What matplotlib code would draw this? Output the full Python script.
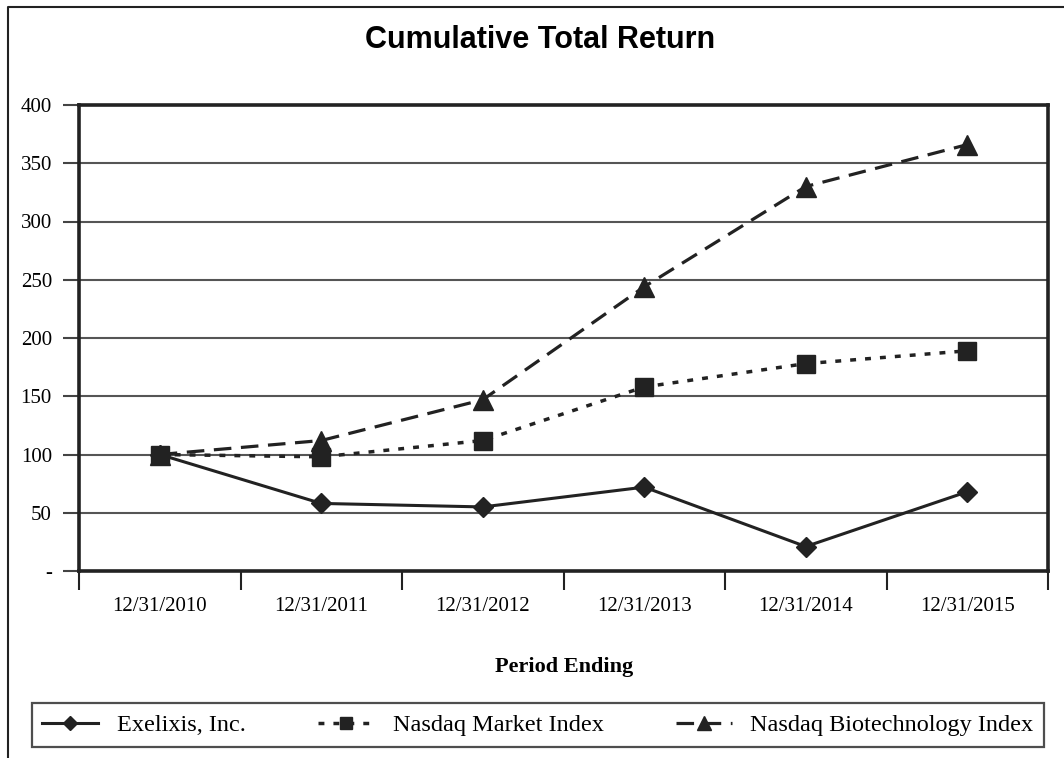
import matplotlib
matplotlib.use('Agg')
from matplotlib import pyplot as plt
from matplotlib.lines import Line2D
from matplotlib.ticker import FixedLocator, NullFormatter

periods = ['12/31/2010', '12/31/2011', '12/31/2012', '12/31/2013', '12/31/2014', '12/31/2015']
exelixis = [100, 58, 55, 72, 21, 68]
nasdaq_market = [100, 98, 112, 158, 178, 189]
nasdaq_biotech = [100, 112, 147, 244, 330, 366]
y_ticks = [0, 50, 100, 150, 200, 250, 300, 350, 400]
y_labels = ['-', '50', '100', '150', '200', '250', '300', '350', '400']

W, H = 1064, 758
fig = plt.figure(figsize=(W / 100, H / 100), dpi=100)

# outer frame (top and left edges only visible)
fig.lines.append(Line2D([8 / W, 8 / W, 1.0], [0.0, 1 - 7 / H, 1 - 7 / H],
                        transform=fig.transFigure, color='#222222', linewidth=1.5))

ax = fig.add_axes([79 / W, 1 - 571 / H, (1048 - 79) / W, (571 - 105) / H])
x = list(range(len(periods)))

ax.plot(x, exelixis, color='#222222', linestyle='-', linewidth=2.2,
        marker='D', markersize=10, label='Exelixis, Inc.')
ax.plot(x, nasdaq_market, color='#222222', linestyle=(0, (1.7, 2.6)), linewidth=2.5,
        marker='s', markersize=13, label='Nasdaq Market Index')
ax.plot(x, nasdaq_biotech, color='#222222', linestyle=(0, (5.5, 3)), linewidth=2.3,
        marker='^', markersize=15, label='Nasdaq Biotechnology Index')

ax.set_xlim(-0.5, len(periods) - 0.5)
ax.set_ylim(0, 400)
ax.set_yticks(y_ticks)
ax.set_yticklabels(y_labels, family='Liberation Serif', fontsize=15)
ax.yaxis.grid(True, color='#555555', linewidth=1.5)
ax.set_axisbelow(True)
ax.tick_params(axis='y', length=11.5, width=1.5, color='#444444', pad=8)

ax.set_xticks(x)
ax.set_xticklabels(periods, family='Liberation Serif', fontsize=15)
ax.tick_params(axis='x', which='major', length=0, pad=19)
ax.xaxis.set_minor_locator(FixedLocator([i - 0.5 for i in range(len(periods) + 1)]))
ax.xaxis.set_minor_formatter(NullFormatter())
ax.tick_params(axis='x', which='minor', length=14, width=1.5, color='#222222')

for s in ax.spines.values():
    s.set_linewidth(2.6)
    s.set_color('#222222')

fig.text(540 / W, 1 - 40 / H, 'Cumulative Total Return', ha='center', va='center',
         family='Liberation Sans', fontweight='bold', fontsize=22)
fig.text(564 / W, 1 - 667 / H, 'Period Ending', ha='center', va='center',
         family='Liberation Serif', fontweight='bold', fontsize=16)

leg = fig.legend(loc='center', bbox_to_anchor=(538 / W, 1 - 725 / H), ncol=3,
                 prop={'family': 'Liberation Serif', 'size': 17.5},
                 frameon=True, fancybox=False, edgecolor='#222222',
                 markerscale=0.7, handlelength=2.3, handletextpad=0.75,
                 columnspacing=3.0, borderpad=0.45, borderaxespad=0)
leg.get_frame().set_linewidth(1.6)

plt.savefig('out.png', dpi=100)
